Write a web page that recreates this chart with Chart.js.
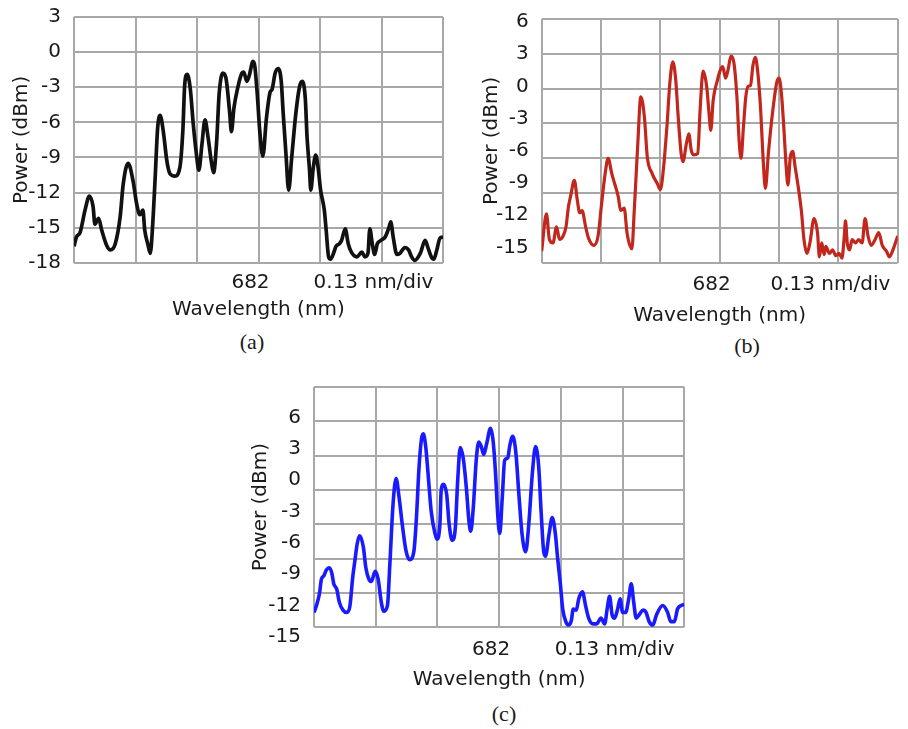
<!DOCTYPE html>
<html>
<head>
<meta charset="utf-8">
<script src="https://cdn.jsdelivr.net/npm/chart.js@4.4.1/dist/chart.umd.min.js"></script>
<style>
    html, body { margin: 0; padding: 0; background: #fff; }
    body { width: 908px; height: 729px; position: relative; overflow: hidden; }
    .panel { position: absolute; }
    .caption {
        position: absolute;
        font-family: 'Liberation Serif', 'Times New Roman', serif;
        font-size: 22px;
        color: #1a1a1a;
        transform: translate(-50%, -50%);
        white-space: nowrap;
    }
</style>
</head>
<body>
<div class="panel" style="left:0px;top:0px"><canvas id="chartA" width="455" height="322"></canvas></div>
<div class="panel" style="left:460px;top:0px"><canvas id="chartB" width="448" height="328"></canvas></div>
<div class="panel" style="left:240px;top:370px"><canvas id="chartC" width="455" height="322"></canvas></div>
<div class="caption" style="left:252px;top:342px">(a)</div>
<div class="caption" style="left:747px;top:346px">(b)</div>
<div class="caption" style="left:504px;top:714px">(c)</div>

<script>
// eje x en divisiones de 0.13 nm, 682 nm en la division 3
const xTickLabels = ['', '', '', '682', '', '0.13 nm/div', ''];

const yTicksA = [3, 0, -3, -6, -9, -12, -15, -18];
const yTicksB = [6, 3, 0, -3, -6, -9, -12, -15];
const yTicksC = [6, 3, 0, -3, -6, -9, -12, -15];

// (a) negro
const xA = [0.00, 0.04, 0.10, 0.18, 0.25, 0.31, 0.34, 0.40, 0.45, 0.53,
    0.59, 0.67, 0.75, 0.80, 0.88, 0.96, 1.02, 1.07, 1.12, 1.15,
    1.20, 1.24, 1.28, 1.32, 1.36, 1.40, 1.45, 1.51, 1.56, 1.64,
    1.72, 1.77, 1.80, 1.84, 1.89, 1.94, 1.99, 2.03, 2.08, 2.13,
    2.18, 2.24, 2.27, 2.32, 2.36, 2.42, 2.47, 2.53, 2.56, 2.60,
    2.66, 2.73, 2.76, 2.81, 2.85, 2.91, 2.94, 2.98, 3.02, 3.07,
    3.13, 3.19, 3.22, 3.27, 3.32, 3.37, 3.40, 3.45, 3.49, 3.54,
    3.61, 3.67, 3.71, 3.76, 3.79, 3.83, 3.85, 3.89, 3.93, 3.97,
    4.01, 4.07, 4.10, 4.14, 4.17, 4.22, 4.26, 4.31, 4.35, 4.41,
    4.46, 4.51, 4.60, 4.68, 4.73, 4.78, 4.81, 4.85, 4.89, 4.93,
    4.99, 5.06, 5.12, 5.15, 5.19, 5.25, 5.30, 5.38, 5.44, 5.49,
    5.54, 5.63, 5.71, 5.76, 5.82, 5.85, 5.90, 5.95, 6.00];
const powerA = [-16.6, -15.8, -15.4, -13.5, -12.3, -13.2, -14.7, -14.2, -15.2, -16.5,
    -16.9, -16.4, -14.1, -11.3, -9.5, -11.0, -13.0, -13.9, -13.5, -15.2,
    -16.4, -17.2, -14.7, -10.7, -6.5, -5.4, -6.7, -9.3, -10.4, -10.6,
    -9.9, -6.7, -2.8, -1.9, -3.1, -6.2, -8.7, -10.1, -7.9, -5.8,
    -7.3, -9.6, -10.3, -7.6, -3.6, -1.8, -2.2, -5.1, -6.8, -4.8,
    -3.1, -1.8, -1.7, -2.5, -2.0, -0.8, -1.2, -3.6, -6.7, -8.9,
    -5.6, -3.4, -3.2, -1.8, -1.4, -2.5, -5.1, -9.0, -11.8, -9.0,
    -5.1, -2.9, -2.5, -3.9, -7.3, -10.1, -11.8, -9.9, -8.8, -9.9,
    -11.8, -13.5, -15.2, -17.5, -17.7, -17.2, -16.6, -16.4, -16.1, -15.1,
    -16.4, -17.1, -17.5, -17.1, -17.5, -17.2, -15.1, -16.4, -17.3, -16.4,
    -16.1, -15.8, -15.0, -14.5, -15.8, -17.3, -17.2, -16.7, -16.9, -17.5,
    -17.8, -17.2, -16.1, -16.8, -17.6, -17.7, -16.9, -15.9, -15.8];

// (b) rojo
const xB = [0.00, 0.08, 0.13, 0.19, 0.25, 0.30, 0.36, 0.41, 0.45, 0.49,
    0.55, 0.60, 0.64, 0.68, 0.74, 0.79, 0.88, 0.95, 1.01, 1.07,
    1.12, 1.18, 1.23, 1.29, 1.33, 1.39, 1.44, 1.52, 1.56, 1.62,
    1.67, 1.73, 1.78, 1.86, 1.95, 2.00, 2.05, 2.11, 2.16, 2.21,
    2.26, 2.30, 2.35, 2.38, 2.44, 2.48, 2.52, 2.56, 2.63, 2.67,
    2.72, 2.78, 2.82, 2.85, 2.89, 2.96, 3.01, 3.05, 3.10, 3.14,
    3.19, 3.24, 3.29, 3.33, 3.36, 3.40, 3.44, 3.48, 3.52, 3.56,
    3.60, 3.64, 3.69, 3.73, 3.77, 3.82, 3.89, 3.96, 4.00, 4.04,
    4.08, 4.12, 4.15, 4.19, 4.23, 4.27, 4.33, 4.38, 4.42, 4.47,
    4.52, 4.59, 4.65, 4.68, 4.72, 4.76, 4.79, 4.85, 4.90, 4.96,
    5.01, 5.06, 5.10, 5.12, 5.15, 5.19, 5.23, 5.29, 5.34, 5.40,
    5.45, 5.50, 5.55, 5.62, 5.68, 5.74, 5.81, 5.86, 5.92, 6.00];
const powerB = [-14.0, -10.8, -13.0, -13.3, -11.9, -13.0, -12.7, -11.9, -10.2, -9.2,
    -7.9, -9.6, -10.7, -10.5, -11.9, -12.9, -13.5, -12.7, -9.9, -7.3,
    -6.0, -7.3, -8.2, -9.3, -10.5, -10.3, -12.5, -13.8, -10.5, -4.7,
    -0.7, -2.4, -5.9, -7.3, -8.2, -8.7, -7.0, -3.3, 0.5, 2.3,
    0.7, -2.4, -5.6, -6.3, -4.7, -3.9, -5.3, -5.7, -5.6, -1.8,
    1.5, 0.2, -2.1, -3.6, -1.0, 0.7, 1.6, 1.9, 0.9, 1.6,
    2.8, 2.2, -0.7, -4.7, -6.0, -3.3, -0.7, 0.2, 0.3, 2.0,
    2.7, 1.5, -1.8, -5.9, -8.6, -5.6, -2.1, 0.5, 0.9, -0.4,
    -3.3, -6.7, -8.3, -5.9, -5.4, -6.7, -8.7, -10.7, -13.0, -14.2,
    -13.3, -11.2, -12.5, -14.5, -13.3, -14.3, -13.6, -14.2, -13.9, -14.4,
    -14.2, -14.6, -12.7, -11.4, -13.3, -13.9, -13.0, -13.3, -13.0, -13.3,
    -11.2, -12.7, -13.5, -13.0, -12.4, -13.5, -14.0, -14.5, -13.9, -12.7];

// (c) azul
const xC = [0.00, 0.04, 0.09, 0.12, 0.16, 0.20, 0.25, 0.29, 0.32, 0.37,
    0.41, 0.47, 0.53, 0.58, 0.63, 0.66, 0.70, 0.74, 0.80, 0.84,
    0.89, 0.93, 0.99, 1.04, 1.09, 1.13, 1.19, 1.23, 1.28, 1.33,
    1.38, 1.43, 1.49, 1.55, 1.62, 1.66, 1.70, 1.74, 1.77, 1.81,
    1.85, 1.90, 1.96, 1.99, 2.04, 2.06, 2.10, 2.15, 2.19, 2.24,
    2.29, 2.33, 2.37, 2.42, 2.47, 2.51, 2.54, 2.58, 2.63, 2.67,
    2.71, 2.75, 2.80, 2.86, 2.90, 2.94, 2.98, 3.01, 3.05, 3.09,
    3.14, 3.17, 3.22, 3.27, 3.32, 3.37, 3.43, 3.48, 3.54, 3.59,
    3.64, 3.68, 3.72, 3.75, 3.81, 3.86, 3.91, 3.95, 3.99, 4.03,
    4.08, 4.12, 4.17, 4.20, 4.25, 4.29, 4.35, 4.40, 4.45, 4.52,
    4.58, 4.65, 4.71, 4.75, 4.79, 4.83, 4.87, 4.92, 4.96, 5.00,
    5.05, 5.10, 5.14, 5.18, 5.22, 5.27, 5.33, 5.38, 5.43, 5.49,
    5.55, 5.65, 5.73, 5.78, 5.84, 5.89, 5.95, 6.00];
const powerC = [-10.7, -10.1, -9.0, -7.8, -7.5, -7.0, -6.8, -7.3, -8.2, -8.7,
    -9.8, -10.5, -10.7, -10.2, -7.5, -6.3, -4.7, -4.0, -5.0, -6.8,
    -7.8, -8.0, -7.1, -7.8, -9.8, -10.6, -10.1, -6.4, -1.3, 1.0,
    -0.7, -3.0, -5.3, -6.1, -5.3, -2.4, 1.8, 4.4, 4.9, 3.8,
    1.3, -1.9, -3.8, -4.3, -3.0, -0.1, 0.5, -0.4, -3.0, -4.4,
    -3.3, 1.0, 3.7, 2.7, 0.1, -2.7, -3.6, -1.6, 2.7, 4.2,
    3.8, 3.1, 4.1, 5.4, 4.4, 1.6, -2.4, -3.8, -0.7, 2.6,
    2.8, 3.8, 4.7, 3.3, -0.4, -3.8, -5.4, -3.0, 1.6, 3.8,
    2.1, -1.9, -5.3, -5.8, -3.8, -2.4, -3.8, -6.1, -8.1, -10.4,
    -11.5, -11.8, -11.4, -10.4, -10.5, -9.5, -8.9, -10.1, -11.2, -11.7,
    -11.7, -11.2, -11.7, -10.4, -9.3, -10.9, -11.2, -10.4, -9.5, -10.7,
    -10.7, -9.5, -8.2, -9.8, -11.2, -10.9, -10.5, -10.7, -11.5, -11.8,
    -10.9, -10.1, -10.7, -11.5, -11.5, -10.4, -10.1, -10.0];

let charts = {};

const gris = '#a8a8a8';
const texto = '#1a1a1a';
const fuente = { family: "'DejaVu Sans', sans-serif", size: 20 };

function crearEspectro(id, xs, ys, yTicks, color, ancho, caja) {
    const canvas = document.getElementById(id);
    if (!canvas) return;

    const ctx = canvas.getContext('2d');
    const puntos = xs.map((x, i) => ({ x: x, y: ys[i] }));

    charts[id] = new Chart(ctx, {
        type: 'line',
        data: {
            datasets: [{
                data: puntos,
                borderColor: color,
                borderWidth: ancho,
                pointRadius: 0,
                cubicInterpolationMode: 'monotone',
                fill: false
            }]
        },
        options: {
            responsive: false,
            animation: false,
            devicePixelRatio: 1,
            layout: {
                padding: { top: caja.arriba, right: caja.derecha, left: 0, bottom: 0 }
            },
            plugins: {
                legend: { display: false },
                tooltip: { enabled: false }
            },
            scales: {
                x: {
                    type: 'linear',
                    min: 0,
                    max: 6,
                    grid: { color: gris, lineWidth: 2, drawTicks: false },
                    border: { display: false },
                    ticks: {
                        stepSize: 1,
                        autoSkip: false,
                        maxRotation: 0,
                        minRotation: 0,
                        padding: caja.xPad,
                        labelOffset: -8,
                        font: fuente,
                        color: texto,
                        callback: (v, i) => xTickLabels[i]
                    },
                    title: {
                        display: true,
                        text: 'Wavelength (nm)',
                        font: fuente,
                        color: texto,
                        padding: 0
                    },
                    afterFit: s => { s.height = caja.xAlto; }
                },
                // rejilla
                y: {
                    type: 'linear',
                    position: 'left',
                    min: caja.yMin,
                    max: caja.yMax,
                    grid: { color: gris, lineWidth: 2, drawTicks: false },
                    border: { display: false },
                    ticks: { display: false, stepSize: 3 },
                    afterFit: s => { s.width = 0; }
                },
                // etiquetas del eje y, tal como estan impresas
                yl: {
                    type: 'linear',
                    position: 'left',
                    min: caja.lMin,
                    max: caja.lMax,
                    grid: { display: false },
                    border: { display: false },
                    ticks: {
                        autoSkip: false,
                        padding: 5,
                        font: fuente,
                        color: texto,
                        callback: v => String(v)
                    },
                    afterBuildTicks: s => {
                        s.ticks = yTicks.map(v => ({ value: v }));
                    },
                    title: {
                        display: true,
                        text: 'Power (dBm)',
                        font: fuente,
                        color: texto,
                        padding: caja.tPad
                    },
                    afterFit: s => { s.width = caja.yAncho; }
                }
            }
        }
    });
}

crearEspectro('chartA', xA, powerA, yTicksA, '#111111', 3.7, {
    arriba: 15, derecha: 12, yAncho: 74, xAlto: 59.3, xPad: 8.4, tPad: 10,
    yMin: -18, yMax: 3, lMin: -18, lMax: 3
});
crearEspectro('chartB', xB, powerB, yTicksB, '#c1271c', 3.2, {
    arriba: 19, derecha: 1.3, yAncho: 81.7, xAlto: 65.3, xPad: 10.3, tPad: 19.7,
    yMin: -15, yMax: 6, lMin: -16.43, lMax: 6.28
});
crearEspectro('chartC', xC, powerC, yTicksC, '#1a1aff', 3.6, {
    arriba: 11, derecha: 10, yAncho: 74, xAlto: 64.7, xPad: 10.7, tPad: 8.7,
    yMin: -12, yMax: 9, lMin: -14.1, lMax: 8.9
});
</script>
</body>
</html>
